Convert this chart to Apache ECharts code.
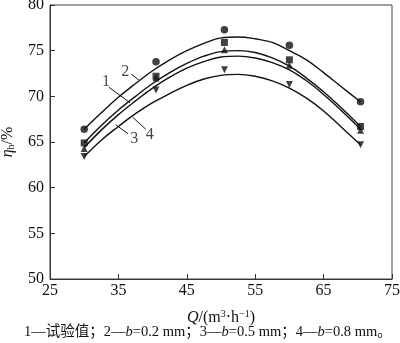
<!DOCTYPE html>
<html>
<head>
<meta charset="utf-8">
<script src="https://cdn.jsdelivr.net/npm/echarts@6/dist/echarts.min.js"></script>
<style>
  html, body { margin: 0; padding: 0; background: #fff; }
  #chart { width: 400px; height: 343px; }
</style>
</head>
<body>
<div id="chart"></div>
<script>
// Flow rate Q (m³/h) at the measured points
const qPoints = [30, 40.5, 50.5, 60, 70.4];
// Efficiency ηh (%) at each point, one list per marker type
const circleEff = [66.4, 73.8, 77.3, 75.6, 69.4];
const squareEff = [64.9, 72.2, 75.9, 74.0, 66.7];
const upTriEff = [64.3, 72.0, 75.1, 73.4, 66.3];
const downTriEff = [63.4, 70.7, 72.9, 71.3, 64.7];

// Fitted curves, sampled along Q
const qCurve = [30, 32.5, 35, 37.5, 40, 42.5, 45, 47.5, 50, 52.5, 55, 57.5, 60, 62.5, 65, 67.5, 70.4];
const curve2 = [66.4, 68.2, 69.9, 71.4, 72.8, 74.0, 75.0, 75.8, 76.4, 76.5, 76.3, 75.9, 75.0, 74.0, 72.6, 71.1, 69.4];
const curve1 = [64.9, 66.8, 68.5, 70.0, 71.4, 72.6, 73.6, 74.4, 74.9, 75.0, 74.8, 74.2, 73.3, 72.0, 70.5, 68.8, 66.7];
const curve4 = [64.4, 66.3, 68.0, 69.5, 70.9, 72.1, 73.1, 73.8, 74.3, 74.4, 74.2, 73.7, 72.9, 71.7, 70.2, 68.5, 66.4];
const curve3 = [63.4, 65.2, 66.7, 68.1, 69.3, 70.3, 71.2, 71.9, 72.3, 72.4, 72.2, 71.7, 70.9, 69.8, 68.4, 66.7, 64.7];

// Curve numbers and their leader lines, in data coordinates
const tagText = ['2', '1', '3', '4'];
const tagPos = [[36.0, 72.7], [33.2, 71.6], [37.3, 65.4], [39.6, 65.8]];
const leaders = [
  [[36.9, 72.4], [38.0, 71.8]],
  [[33.6, 71.0], [36.7, 69.3]],
  [[36.4, 65.9], [34.6, 66.9]],
  [[39.0, 66.4], [37.1, 67.7]]
];

// Legend note under the axis: [text, italic?]
const captionParts = [
  ['1—试验值；2—', false], ['b', true], ['=0.2 mm；3—', false], ['b', true],
  ['=0.5 mm；4—', false], ['b', true], ['=0.8 mm。', false]
];

const FONT = '"Liberation Serif", "Times New Roman", "Noto Sans CJK SC", serif';
const INK = '#111';

const zip = (xs, ys) => xs.map((x, i) => [x, ys[i]]);

function curveSeries(values) {
  return {
    type: 'line',
    data: zip(qCurve, values),
    smooth: 0.4,
    symbol: 'none',
    lineStyle: { color: INK, width: 1.4 },
    silent: true,
    z: 2
  };
}

function markerSeries(values, symbol, size, rotate) {
  return {
    type: 'scatter',
    data: zip(qPoints, values),
    symbol: symbol,
    symbolSize: size,
    symbolRotate: rotate || 0,
    itemStyle: { color: INK },
    silent: true,
    z: 3
  };
}

const chart = echarts.init(document.getElementById('chart'), null, { renderer: 'canvas' });

chart.setOption({
  animation: false,
  backgroundColor: '#fff',
  grid: {
    left: 50, right: 8, top: 5, bottom: 64,
    outerBoundsMode: 'none',
    containLabel: false,
    show: true, borderColor: '#444', borderWidth: 1, backgroundColor: 'transparent'
  },
  xAxis: {
    type: 'value',
    min: 25, max: 75, interval: 10,
    axisLine: { show: true, lineStyle: { color: '#333', width: 1 } },
    axisTick: { show: true, inside: true, length: 5, lineStyle: { color: '#333' } },
    splitLine: { show: false },
    axisLabel: { color: INK, fontFamily: FONT, fontSize: 16, margin: 4, hideOverlap: false },
    name: '{i|Q}{n|/(m}{sup|3}{n|·h}{sup|−1}{n|)}',
    nameLocation: 'middle',
    nameGap: 30,
    nameTextStyle: {
      rich: {
        i: { fontFamily: FONT, fontSize: 16, fontStyle: 'italic', color: INK },
        n: { fontFamily: FONT, fontSize: 16, color: INK },
        sup: { fontFamily: FONT, fontSize: 10, color: INK, padding: [0, 0, 8, 0] }
      }
    }
  },
  yAxis: {
    type: 'value',
    min: 50, max: 80, interval: 5,
    axisLine: { show: true, lineStyle: { color: '#333', width: 1 } },
    axisTick: { show: true, inside: true, length: 5, lineStyle: { color: '#333' } },
    splitLine: { show: false },
    axisLabel: { color: INK, fontFamily: FONT, fontSize: 16, margin: 6 },
    name: '{i|η}{sub|h}{n|/%}',
    nameLocation: 'middle',
    nameRotate: 90,
    nameGap: 34,
    nameTextStyle: {
      rich: {
        i: { fontFamily: FONT, fontSize: 16, fontStyle: 'italic', color: INK },
        n: { fontFamily: FONT, fontSize: 16, color: INK },
        sub: { fontFamily: FONT, fontSize: 10, color: INK, padding: [6, 0, 0, 0] }
      }
    }
  },
  series: [
    curveSeries(curve2),
    curveSeries(curve1),
    curveSeries(curve4),
    curveSeries(curve3),
    markerSeries(circleEff, 'circle', 7.5),
    markerSeries(squareEff, 'rect', 7),
    markerSeries(upTriEff, 'triangle', 7),
    markerSeries(downTriEff, 'triangle', 7, 180),
    {
      // curve number tags with leader lines
      type: 'scatter',
      data: tagPos.map((p, i) => ({ value: p, tag: tagText[i] })),
      symbolSize: 0,
      silent: true,
      label: {
        show: true,
        position: 'inside',
        formatter: (p) => p.data.tag,
        fontFamily: FONT, fontSize: 16, color: INK
      },
      markLine: {
        silent: true,
        symbol: 'none',
        label: { show: false },
        lineStyle: { color: INK, width: 1, type: 'solid' },
        data: leaders.map(([a, b]) => [{ coord: a }, { coord: b }])
      },
      z: 4
    }
  ],
  graphic: [{
    type: 'text',
    left: 24,
    top: 325,
    style: {
      text: captionParts.map(([t, it]) => '{' + (it ? 'i' : 'n') + '|' + t + '}').join(''),
      rich: {
        n: { fontFamily: FONT, fontSize: 14.5, fill: INK },
        i: { fontFamily: FONT, fontSize: 14.5, fontStyle: 'italic', fill: INK }
      }
    }
  }]
});
</script>
</body>
</html>
